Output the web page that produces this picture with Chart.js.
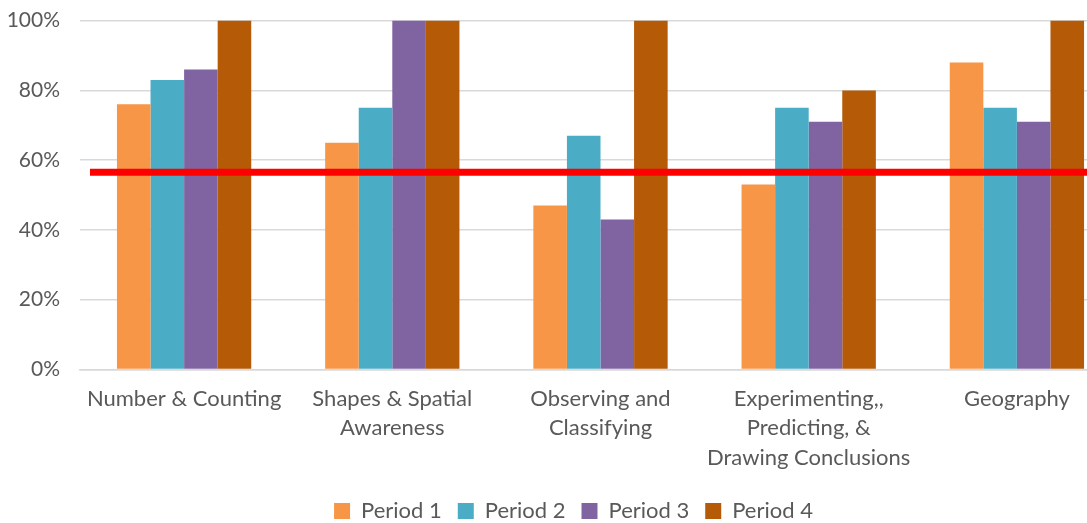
<!DOCTYPE html>
<html>
<head>
<meta charset="utf-8">
<script src="https://cdn.jsdelivr.net/npm/chart.js@4"></script>
<style>
  html, body { margin: 0; padding: 0; background: #fff; overflow: hidden; }
  #wrap { position: absolute; left: 0; top: -12px; width: 1121px; height: 544px; }
</style>
</head>
<body>
<div id="wrap"><canvas id="BarChart"></canvas></div>
<script>
const categories = [
  "Number & Counting",
  ["Shapes & Spatial", "Awareness"],
  ["Observing and", "Classifying"],
  ["Experimenting,,", "Predicting, &", "Drawing Conclusions"],
  "Geography",
];
const period1 = [76, 65, 47, 53, 88];
const period2 = [83, 75, 67, 75, 75];
const period3 = [86, 100, 43, 71, 71];
const period4 = [100, 100, 100, 80, 100];
const seriesNames = ["Period 1", "Period 2", "Period 3", "Period 4"];
const yTicks = [0, 20, 40, 60, 80, 100];
const targetLine = 56.5;

const colors = ["#F79646", "#4BACC6", "#8064A2", "#B55A06"];
const textColor = "#595959";
const fontFamily = "Lato, 'Open Sans', sans-serif";

//Red target line drawn across the plot area
const targetLinePlugin = {
  id: "targetLine",
  afterDatasetsDraw(chart) {
    const { ctx, chartArea, scales } = chart;
    const y = scales.y.getPixelForValue(targetLine);
    ctx.save();
    ctx.strokeStyle = "#FF0000";
    ctx.lineWidth = 7;
    ctx.beginPath();
    ctx.moveTo(chartArea.left + 10, y);
    ctx.lineTo(chartArea.right, y);
    ctx.stroke();
    ctx.restore();
  },
};

//Nudge legend a little to the right, like the original
const legendShiftPlugin = {
  id: "legendShift",
  afterLayout(chart) {
    chart.legend.left += 13;
    chart.legend.right += 13;
  },
};

const allSeries = [period1, period2, period3, period4];

const ctxbar = document.getElementById("BarChart").getContext("2d");
const myBarChart = new Chart(ctxbar, {
  type: "bar",
  data: {
    labels: categories,
    datasets: allSeries.map((values, i) => ({
      label: seriesNames[i],
      data: values,
      backgroundColor: colors[i],
      borderWidth: 0,
      categoryPercentage: 0.645,
      barPercentage: 1,
    })),
  },
  options: {
    responsive: true,
    maintainAspectRatio: false,
    devicePixelRatio: 1,
    animation: false,
    layout: {
      padding: { top: 0, left: 0, right: 0, bottom: 0 },
    },
    scales: {
      y: {
        min: 0,
        max: 100,
        afterBuildTicks: (scale) => {
          scale.ticks = yTicks.map((v) => ({ value: v }));
        },
        afterFit: (scale) => {
          scale.width = 80;
        },
        ticks: {
          color: textColor,
          font: { family: fontFamily, size: 21 },
          padding: 20,
          callback: (v) => v + "%",
        },
        grid: { color: "#D9D9D9", lineWidth: 1.5, drawTicks: false },
        border: { display: false },
      },
      x: {
        afterFit: (scale) => {
          scale.height = 114.5;
        },
        ticks: {
          color: textColor,
          font: { family: fontFamily, size: 22, lineHeight: 1.36 },
          padding: 14,
          maxRotation: 0,
          autoSkip: false,
        },
        grid: { display: false, drawTicks: false },
        border: { color: "#D9D9D9", width: 1.5 },
      },
    },
    plugins: {
      legend: {
        position: "bottom",
        labels: {
          color: textColor,
          font: { family: fontFamily, size: 22 },
          boxWidth: 16,
          boxHeight: 16,
          padding: 16,
        },
      },
      tooltip: { enabled: false },
    },
  },
  plugins: [targetLinePlugin, legendShiftPlugin],
});
</script>
</body>
</html>
